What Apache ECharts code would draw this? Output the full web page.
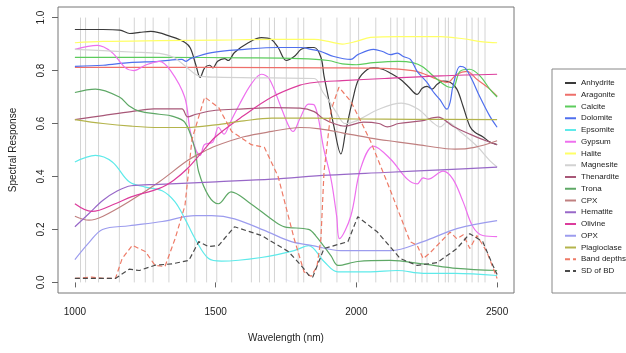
<!DOCTYPE html>
<html>
<head>
<meta charset="utf-8">
<script src="https://cdn.jsdelivr.net/npm/echarts@6/dist/echarts.min.js"></script>
<style>
  html, body { margin: 0; background: #fff; }
  #chart { width: 626px; height: 353px; }
</style>
</head>
<body>
<div id="chart"></div>
<script>
// spectra, [wavelength nm, response]
const anhydrite = [[1000,0.955],[1100,0.955],[1160,0.953],[1195,0.94],[1230,0.944],[1270,0.948],[1345,0.927],[1390,0.907],[1410,0.885],[1430,0.82],[1445,0.774],[1461,0.81],[1479,0.82],[1490,0.81],[1507,0.835],[1532,0.845],[1545,0.838],[1567,0.868],[1616,0.905],[1663,0.924],[1698,0.917],[1722,0.887],[1751,0.838],[1779,0.853],[1804,0.88],[1828,0.887],[1850,0.887],[1874,0.85],[1885,0.78],[1902,0.69],[1920,0.59],[1945,0.485],[1962,0.57],[1987,0.69],[2008,0.767],[2040,0.805],[2061,0.81],[2093,0.805],[2121,0.79],[2156,0.767],[2184,0.74],[2216,0.71],[2234,0.733],[2251,0.74],[2269,0.73],[2287,0.748],[2308,0.76],[2333,0.756],[2357,0.73],[2379,0.665],[2403,0.59],[2421,0.567],[2449,0.55],[2474,0.53],[2500,0.52]];
const aragonite = [[1000,0.812],[1500,0.812],[1900,0.81],[2100,0.808],[2200,0.8],[2234,0.79],[2287,0.767],[2322,0.755],[2357,0.786],[2393,0.797],[2428,0.767],[2474,0.73],[2500,0.703]];
const calcite = [[1000,0.85],[1300,0.85],[1600,0.848],[1800,0.845],[1900,0.838],[1950,0.825],[2000,0.822],[2061,0.83],[2150,0.835],[2200,0.83],[2234,0.815],[2287,0.767],[2322,0.74],[2343,0.736],[2368,0.797],[2403,0.805],[2439,0.78],[2474,0.73],[2500,0.7]];
const dolomite = [[1000,0.816],[1100,0.82],[1193,0.83],[1298,0.835],[1380,0.842],[1395,0.835],[1410,0.845],[1486,0.868],[1603,0.88],[1722,0.887],[1804,0.887],[1839,0.88],[1874,0.872],[1920,0.853],[1980,0.842],[2005,0.86],[2061,0.88],[2093,0.872],[2121,0.86],[2146,0.866],[2167,0.853],[2192,0.842],[2216,0.797],[2251,0.755],[2273,0.72],[2297,0.69],[2322,0.654],[2333,0.68],[2343,0.74],[2368,0.816],[2386,0.81],[2410,0.767],[2439,0.7],[2474,0.628],[2500,0.586]];
const epsomite = [[1000,0.455],[1073,0.48],[1133,0.455],[1193,0.38],[1250,0.36],[1310,0.346],[1355,0.305],[1391,0.24],[1427,0.165],[1475,0.09],[1521,0.08],[1662,0.094],[1779,0.12],[1830,0.139],[1885,0.079],[1934,0.04],[2050,0.04],[2145,0.045],[2237,0.034],[2350,0.034],[2500,0.026]];
const gypsum = [[1000,0.88],[1080,0.895],[1130,0.87],[1180,0.81],[1210,0.8],[1250,0.82],[1300,0.835],[1340,0.8],[1390,0.7],[1410,0.57],[1430,0.5],[1445,0.48],[1460,0.52],[1490,0.53],[1510,0.586],[1530,0.56],[1550,0.6],[1585,0.673],[1627,0.75],[1663,0.786],[1690,0.77],[1735,0.654],[1760,0.59],[1775,0.57],[1800,0.62],[1830,0.673],[1850,0.67],[1885,0.5],[1910,0.39],[1930,0.25],[1940,0.165],[1980,0.25],[2015,0.43],[2061,0.515],[2121,0.466],[2181,0.39],[2216,0.372],[2237,0.395],[2255,0.39],[2308,0.42],[2343,0.39],[2379,0.305],[2414,0.21],[2449,0.177],[2500,0.173]];
const halite = [[1000,0.905],[1100,0.91],[1300,0.913],[1500,0.915],[1700,0.918],[1850,0.918],[1900,0.91],[1950,0.9],[2000,0.91],[2050,0.925],[2150,0.928],[2300,0.928],[2380,0.92],[2450,0.908],[2500,0.905]];
const magnesite = [[1000,0.88],[1100,0.875],[1200,0.87],[1300,0.865],[1350,0.85],[1400,0.81],[1440,0.78],[1500,0.775],[1700,0.772],[1850,0.77],[1880,0.72],[1900,0.69],[1930,0.64],[1960,0.6],[2000,0.61],[2080,0.654],[2160,0.677],[2220,0.654],[2270,0.605],[2297,0.587],[2322,0.605],[2368,0.57],[2428,0.515],[2474,0.46],[2500,0.436]];
const thenardite = [[1000,0.615],[1100,0.63],[1200,0.645],[1280,0.655],[1380,0.655],[1400,0.625],[1430,0.635],[1500,0.65],[1600,0.655],[1700,0.66],[1800,0.658],[1850,0.645],[1880,0.62],[1920,0.6],[1960,0.59],[2025,0.605],[2080,0.6],[2110,0.587],[2150,0.6],[2230,0.61],[2290,0.624],[2343,0.59],[2403,0.56],[2463,0.534],[2500,0.52]];
const trona = [[1000,0.717],[1073,0.73],[1158,0.7],[1193,0.666],[1228,0.647],[1300,0.635],[1345,0.628],[1390,0.605],[1425,0.51],[1440,0.417],[1475,0.327],[1510,0.297],[1555,0.342],[1615,0.305],[1710,0.23],[1745,0.21],[1830,0.2],[1855,0.177],[1910,0.1],[1935,0.064],[2005,0.079],[2120,0.083],[2235,0.07],[2357,0.053],[2500,0.045]];
const cpx = [[1000,0.25],[1050,0.235],[1100,0.25],[1200,0.31],[1300,0.38],[1400,0.46],[1450,0.49],[1500,0.515],[1600,0.55],[1700,0.57],[1800,0.585],[1870,0.58],[1950,0.565],[2050,0.545],[2150,0.53],[2250,0.515],[2350,0.503],[2420,0.51],[2500,0.535]];
const hematite = [[1000,0.21],[1050,0.26],[1100,0.31],[1150,0.345],[1200,0.365],[1300,0.37],[1500,0.38],[1700,0.39],[1900,0.405],[2100,0.415],[2300,0.425],[2500,0.435]];
const olivine = [[1000,0.297],[1060,0.268],[1150,0.3],[1200,0.323],[1300,0.355],[1350,0.385],[1400,0.43],[1450,0.49],[1500,0.55],[1600,0.63],[1700,0.7],[1800,0.745],[1850,0.755],[1950,0.762],[2100,0.77],[2300,0.78],[2500,0.786]];
const opx = [[1000,0.086],[1050,0.15],[1098,0.2],[1193,0.214],[1310,0.23],[1427,0.252],[1486,0.252],[1567,0.24],[1687,0.19],[1769,0.154],[1839,0.14],[1945,0.12],[2121,0.12],[2237,0.154],[2357,0.203],[2500,0.233]];
const plagioclase = [[1000,0.615],[1100,0.6],[1200,0.59],[1300,0.585],[1400,0.585],[1500,0.595],[1600,0.61],[1700,0.62],[1850,0.62],[2000,0.617],[2200,0.616],[2500,0.615]];
const bandDepths = [[1000,0.015],[1060,0.02],[1100,0.015],[1144,0.015],[1168,0.09],[1204,0.14],[1250,0.117],[1285,0.064],[1320,0.06],[1356,0.165],[1391,0.29],[1416,0.54],[1461,0.7],[1511,0.66],[1557,0.57],[1627,0.52],[1673,0.51],[1722,0.4],[1779,0.165],[1814,0.04],[1839,0.023],[1860,0.06],[1874,0.165],[1885,0.417],[1910,0.65],[1938,0.737],[1980,0.684],[2015,0.61],[2050,0.534],[2120,0.35],[2191,0.154],[2216,0.14],[2237,0.09],[2260,0.11],[2333,0.19],[2357,0.165],[2380,0.18],[2403,0.128],[2428,0.177],[2463,0.117],[2500,0.015]];
const sdOfBD = [[1000,0.015],[1144,0.015],[1193,0.05],[1229,0.045],[1285,0.065],[1345,0.07],[1405,0.083],[1440,0.154],[1475,0.135],[1511,0.14],[1567,0.21],[1663,0.177],[1758,0.117],[1804,0.064],[1832,0.026],[1845,0.02],[1885,0.128],[1970,0.154],[2005,0.248],[2075,0.19],[2156,0.09],[2216,0.064],[2287,0.075],[2333,0.109],[2357,0.128],[2403,0.184],[2449,0.154],[2485,0.064],[2500,0.03]];

// band centres drawn as grey verticals
const bandPositions = [1020,1038,1084,1158,1211,1250,1278,1334,1397,1426,1468,1504,1557,1627,1656,1691,1709,1751,1793,1813,1874,1931,1978,2008,2069,2122,2145,2169,2210,2233,2251,2292,2316,2327,2351,2392,2411,2433,2457];

const xTicks = [1000, 1500, 2000, 2500];
const yTicks = [0, 0.2, 0.4, 0.6, 0.8, 1.0];

const names = ['Anhydrite','Aragonite','Calcite','Dolomite','Epsomite','Gypsum','Halite','Magnesite','Thenardite','Trona','CPX','Hematite','Olivine','OPX','Plagioclase','Band depths','SD of BD'];
const spectra = [anhydrite, aragonite, calcite, dolomite, epsomite, gypsum, halite, magnesite, thenardite, trona, cpx, hematite, olivine, opx, plagioclase, bandDepths, sdOfBD];
const colors = ['#3a3a3a','#ee6f6a','#5ccc5c','#4f6fee','#5eeaea','#ee70ee','#ffff66','#d2d2d2','#a85878','#5ea866','#c08080','#9868c8','#dc3c9c','#9c9cee','#b4b44c','#ee7a66','#4a4a4a'];
const dashed = ['Band depths', 'SD of BD'];

const font = '"Liberation Sans", Arial, sans-serif';
const chart = echarts.init(document.getElementById('chart'));

const bandData = [];
bandPositions.forEach(x => { bandData.push([x, 0], [x, 1], [x, '-']); });

const series = [{
  name: 'bands',
  type: 'line',
  data: bandData,
  symbol: 'none',
  silent: true,
  connectNulls: false,
  lineStyle: { color: '#d4d4d4', width: 1 },
  z: 1
}];

names.forEach((name, i) => {
  const isDash = dashed.indexOf(name) >= 0;
  series.push({
    name: name,
    type: 'line',
    data: spectra[i],
    symbol: 'none',
    smooth: isDash ? false : 0.35,
    color: colors[i],
    lineStyle: { color: colors[i], width: 1.2, type: isDash ? [5, 3] : 'solid' },
    z: 2
  });
});

chart.setOption({
  animation: false,
  textStyle: { fontFamily: font },
  grid: {
    left: 55, top: 7, right: 112, bottom: 60,
    show: true, borderColor: '#777', borderWidth: 1
  },
  legend: {
    data: names,
    orient: 'vertical',
    left: 552, top: 69,
    padding: [10, 6, 18, 12],
    itemWidth: 11, itemHeight: 8, itemGap: 3.75,
    borderColor: '#888', borderWidth: 1,
    textStyle: { fontSize: 8, lineHeight: 8, color: '#222', fontFamily: font },
    itemStyle: { opacity: 0 }
  },
  xAxis: {
    type: 'value',
    min: 940, max: 2560,
    name: 'Wavelength (nm)',
    nameLocation: 'middle', nameGap: 40,
    nameTextStyle: { fontSize: 10, color: '#222' },
    axisLine: { show: false },
    splitLine: { show: false },
    axisTick: { show: true, length: 5, lineStyle: { color: '#666' }, customValues: xTicks },
    axisLabel: { fontSize: 10, color: '#222', margin: 14, customValues: xTicks,
      formatter: v => String(v) }
  },
  yAxis: {
    type: 'value',
    min: -0.04, max: 1.04,
    name: 'Spectral Response',
    nameLocation: 'middle', nameGap: 40, nameRotate: 90,
    nameTextStyle: { fontSize: 10, color: '#222' },
    axisLine: { show: false },
    splitLine: { show: false },
    axisTick: { show: true, length: 6, lineStyle: { color: '#666' }, customValues: yTicks },
    axisLabel: { fontSize: 10, color: '#222', rotate: 90, margin: 12, customValues: yTicks,
      formatter: v => v.toFixed(1) }
  },
  series: series
});
</script>
</body>
</html>
